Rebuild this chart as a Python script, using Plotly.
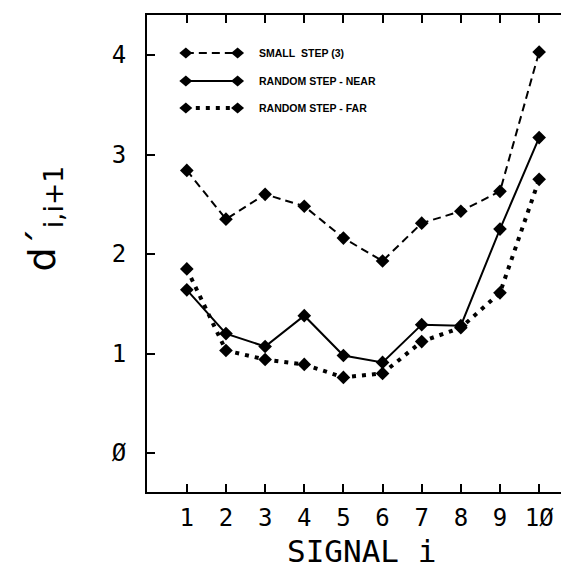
import plotly.graph_objects as go

# ---- data ----
signal = [1, 2, 3, 4, 5, 6, 7, 8, 9, 10]
x_ticktext = ["1", "2", "3", "4", "5", "6", "7", "8", "9", "1\u00d8"]
y_tickvals = [0, 1, 2, 3, 4]
y_ticktext = ["\u00d8", "1", "2", "3", "4"]

small_step = [2.84, 2.35, 2.60, 2.48, 2.16, 1.93, 2.31, 2.43, 2.63, 4.03]
random_near = [1.64, 1.20, 1.07, 1.38, 0.98, 0.91, 1.29, 1.28, 2.25, 3.17]
random_far = [1.85, 1.03, 0.94, 0.89, 0.76, 0.80, 1.12, 1.26, 1.61, 2.75]

series_names = ["SMALL\u00a0\u00a0STEP (3)", "RANDOM STEP - NEAR", "RANDOM STEP - FAR"]

# ---- layout geometry ----
W = H = 569
L, R, T, B = 139, 0, 7, 85
plot_w = W - L - R
plot_h = H - T - B


def px_to_paper_x(px):
    return (px - L) / plot_w


def px_to_paper_y(py):
    return (H - B - py) / plot_h


styles = [
    dict(color="black", width=2, dash="8px,5px"),
    dict(color="black", width=2, dash="solid"),
    dict(color="black", width=4, dash="4px,6px"),
]

fig = go.Figure()
for vals, name, st in zip([small_step, random_near, random_far], series_names, styles):
    fig.add_trace(go.Scatter(
        x=signal, y=vals, name=name, mode="lines+markers",
        line=dict(color=st["color"], width=st["width"], dash=st["dash"]),
        marker=dict(symbol="diamond", size=10.5, color="black"),
        showlegend=False,
    ))

# ---- legend drawn as shapes/annotations ----
shapes = []
annotations = []
legend_rows_px = [45, 73, 100]
key_x0, key_x1, text_x = 178, 230, 250
diamond = "M -6.5 0 L 0 5.5 L 6.5 0 L 0 -5.5 Z"
for row, name, st in zip(legend_rows_px, series_names, styles):
    yp = px_to_paper_y(row)
    shapes.append(dict(type="line", xref="paper", yref="paper",
                       x0=px_to_paper_x(key_x0), x1=px_to_paper_x(key_x1), y0=yp, y1=yp,
                       line=dict(color="black", width=st["width"], dash=st["dash"])))
    for kx in (key_x0, key_x1):
        shapes.append(dict(type="path", xref="paper", yref="paper",
                           xsizemode="pixel", ysizemode="pixel",
                           xanchor=px_to_paper_x(kx), yanchor=yp,
                           path=diamond, fillcolor="black", line=dict(color="black", width=0)))
    annotations.append(dict(x=px_to_paper_x(text_x), y=yp, xref="paper", yref="paper",
                            text="<b>" + name + "</b>", showarrow=False,
                            xanchor="left", yanchor="middle",
                            font=dict(family="Liberation Sans", size=10.5, color="black")))

# y axis title (rotated)
annotations.append(dict(x=px_to_paper_x(36), y=px_to_paper_y(210), xref="paper", yref="paper",
                        text="d\u00b4<sub>i,i+1</sub>", showarrow=False, textangle=-90,
                        xanchor="center", yanchor="middle",
                        font=dict(family="DejaVu Sans", size=38, color="black")))

# x axis title as annotation just under the tick labels
annotations.append(dict(x=0.5, y=px_to_paper_y(543), xref="paper", yref="paper",
                        text="SIGNAL i", showarrow=False,
                        xanchor="center", yanchor="middle",
                        font=dict(family="DejaVu Sans Mono", size=31, color="black")))

axis_common = dict(showline=True, linecolor="black", linewidth=2, mirror="ticks",
                   ticks="inside", ticklen=8, tickwidth=1.5, tickcolor="black",
                   showgrid=False, zeroline=False,
                   tickfont=dict(family="DejaVu Sans Mono", size=24, color="black"))

fig.update_layout(
    width=W, height=H,
    margin=dict(l=L, r=R, t=T, b=B),
    paper_bgcolor="white", plot_bgcolor="white",
    xaxis=dict(range=[-0.017, 10.916], tickmode="array", tickvals=signal, ticktext=x_ticktext,
               ticklabelstandoff=3, **axis_common),
    yaxis=dict(range=[-0.392, 4.402], tickmode="array", tickvals=y_tickvals, ticktext=y_ticktext,
               ticklabelstandoff=14, **axis_common),
    shapes=shapes,
    annotations=annotations,
)

fig.write_html("out.html")
